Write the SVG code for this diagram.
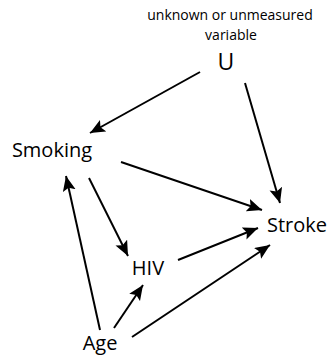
<svg xmlns="http://www.w3.org/2000/svg" width="331" height="357" viewBox="0 0 331 357">
<style>
text{font-family:"Open Sans","Noto Sans","DejaVu Sans",sans-serif;fill:#000;text-anchor:middle}
.n{font-size:20px}
.s{font-size:14px}
.c line{stroke:#000;stroke-width:2;marker-end:url(#ah)}
</style>
<defs>
<marker id="ah" markerUnits="userSpaceOnUse" markerWidth="18" markerHeight="14" refX="15" refY="6.5" orient="auto">
<path d="M0,0 L15,6.5 L0,13 L3,6.5 Z" fill="#000"/>
</marker>
</defs>
<rect width="331" height="357" fill="#fff"/>
<g id="U">
<text class="s" x="230" y="20">unknown or unmeasured</text>
<text class="s" x="231" y="40">variable</text>
<text x="226" y="70" style="font-size:23px">U</text>
</g>
<g id="Smoking"><text class="n" x="52" y="157">Smoking</text></g>
<g id="Stroke"><text class="n" x="297" y="232">Stroke</text></g>
<g id="HIV"><text class="n" x="148" y="275">HIV</text></g>
<g id="Age"><text class="n" x="100" y="350">Age</text></g>
<g id="connectors" class="c">
<line x1="200" y1="72" x2="90" y2="133"/>
<line x1="245" y1="83" x2="280" y2="203"/>
<line x1="121" y1="162" x2="262" y2="210"/>
<line x1="89" y1="178" x2="128" y2="256"/>
<line x1="100" y1="330" x2="66" y2="176"/>
<line x1="178" y1="260" x2="258" y2="228"/>
<line x1="114" y1="328" x2="143" y2="285"/>
<line x1="132" y1="337" x2="270" y2="245"/>
</g>
</svg>
